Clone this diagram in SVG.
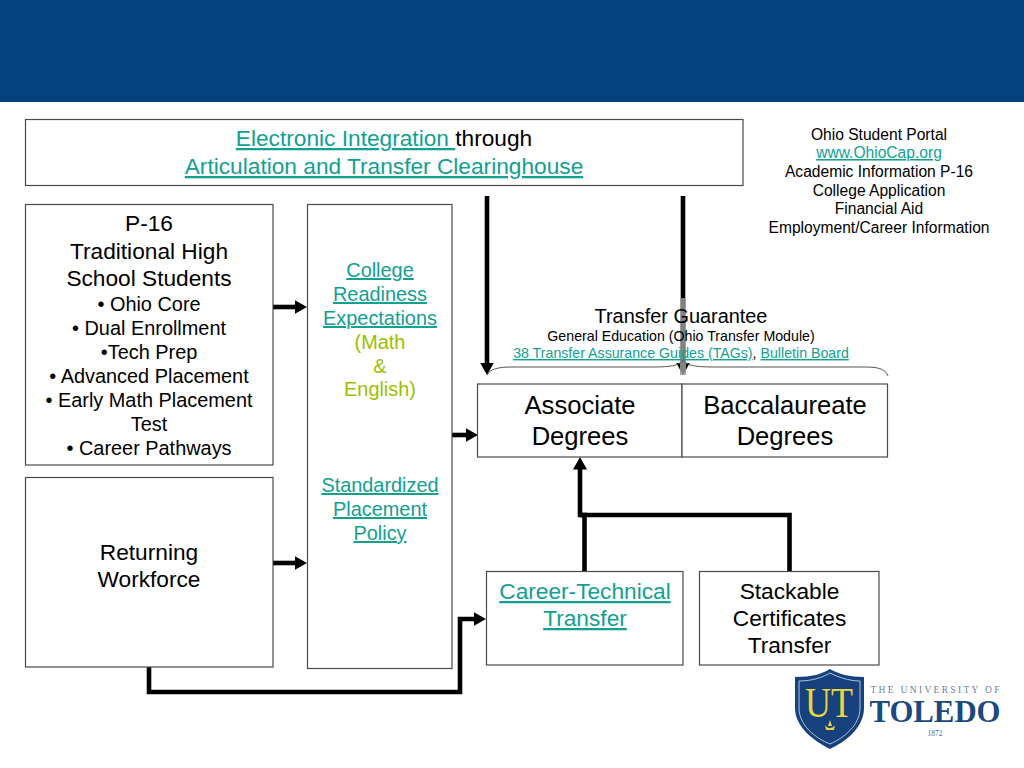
<svg xmlns="http://www.w3.org/2000/svg" width="1024" height="768" viewBox="0 0 1024 768">
<style>
text{font-family:"Liberation Sans",Arial,sans-serif;text-anchor:middle;fill:#000}
.b{fill:#fff;stroke:#4a4a4a;stroke-width:1.2}
.k{fill:none;stroke:#000;stroke-width:4.600}
.l{fill:#12a091;text-decoration:underline}
.g{fill:#9cbf00}
.t21{font-size:22.700px}.t15{font-size:15.600px}.t13{font-size:14.200px}.t18{font-size:19.900px}.t25{font-size:25.600px}
.s{font-family:"Liberation Serif",serif;fill:#1c4a80}
</style>
<defs>
<marker id="a" markerUnits="userSpaceOnUse" markerWidth="14" markerHeight="16" refX="6" refY="8" orient="auto"><path d="M0 1L12.500 8L0 15Z" fill="#000"/></marker>
</defs>
<rect width="1024" height="768" fill="#fff"/>
<rect id="header" width="1024" height="102" fill="#04427f"/>
<g id="connectors">
<path class="k" d="M273 307H300.500" marker-end="url(#a)"/>
<path class="k" d="M273 563H300.500" marker-end="url(#a)"/>
<path class="k" d="M452 435H471.500" marker-end="url(#a)"/>
<path class="k" d="M149 667V692H460V619H479.500" marker-end="url(#a)"/>
<path class="k" d="M487 196V368.500" marker-end="url(#a)"/>
<path class="k" d="M683 196V368.500" marker-end="url(#a)"/>
<path class="k" d="M584.500 571V515H580V463.500" marker-end="url(#a)"/>
<path class="k" d="M580 515H789.500V571"/>
<rect x="680" y="298" width="6" height="77" fill="#999" opacity=".85"/>
</g>
<g id="brace"><path d="M487 375C490 369 498 367 512 367H650C670 367 679 366 683 360C687 366 696 367 716 367H866C880 367 886 370 888 376" fill="none" stroke="#555" stroke-width="1"/></g>
<g id="clearinghouse"><rect class="b" x="25.500" y="119.500" width="717.500" height="66"/>
<text class="t21" x="384" y="146"><tspan class="l">Electronic Integration </tspan>through</text>
<text class="t21 l" x="384" y="174">Articulation and Transfer Clearinghouse</text></g>
<g id="portal" class="t15">
<text x="879" y="140">Ohio Student Portal</text>
<text class="l" x="879" y="158">www.OhioCap.org</text>
<text x="879" y="177">Academic Information P-16</text>
<text x="879" y="196">College Application</text>
<text x="879" y="214">Financial Aid</text>
<text x="879" y="233">Employment/Career Information</text></g>
<g id="p16"><rect class="b" x="25.500" y="204.500" width="247.500" height="260.500"/>
<g class="t21"><text x="149" y="231">P-16</text><text x="149" y="259">Traditional High</text><text x="149" y="286">School Students</text></g>
<g class="t18"><text x="149" y="311">• Ohio Core</text><text x="149" y="335">• Dual Enrollment</text><text x="149" y="359">•Tech Prep</text><text x="149" y="383">• Advanced Placement</text><text x="149" y="407">• Early Math Placement</text><text x="149" y="431">Test</text><text x="149" y="454.500">• Career Pathways</text></g></g>
<g id="returning"><rect class="b" x="25.500" y="477.500" width="247.500" height="189.500"/>
<g class="t21"><text x="149" y="560">Returning</text><text x="149" y="587">Workforce</text></g></g>
<g id="readiness"><rect class="b" x="307.500" y="204.500" width="144.500" height="464"/>
<g class="t18"><text class="l" x="380" y="277">College</text><text class="l" x="380" y="301">Readiness</text><text class="l" x="380" y="325">Expectations</text>
<text class="g" x="380" y="349">(Math</text><text class="g" x="380" y="373">&amp;</text><text class="g" x="380" y="396">English)</text>
<text class="l" x="380" y="492">Standardized</text><text class="l" x="380" y="516">Placement</text><text class="l" x="380" y="540">Policy</text></g></g>
<g id="guarantee"><text class="t18" x="681" y="323">Transfer Guarantee</text>
<text class="t13" x="681" y="341">General Education (Ohio Transfer Module)</text>
<text class="t13" x="681" y="358"><tspan class="l">38 Transfer Assurance Guides (TAGs)</tspan>, <tspan class="l">Bulletin Board</tspan></text></g>
<g id="associate"><rect class="b" x="477.500" y="384" width="204.500" height="73"/>
<g class="t25"><text x="580" y="414">Associate</text><text x="580" y="445">Degrees</text></g></g>
<g id="baccalaureate"><rect class="b" x="682" y="384" width="205.500" height="73"/>
<g class="t25"><text x="785" y="414">Baccalaureate</text><text x="785" y="445">Degrees</text></g></g>
<g id="career"><rect class="b" x="486.500" y="571.500" width="196.500" height="93.500"/>
<g class="t21"><text class="l" x="585" y="599">Career-Technical</text><text class="l" x="585" y="626">Transfer</text></g></g>
<g id="stackable"><rect class="b" x="699.500" y="571.500" width="179.500" height="93.500"/>
<g class="t21"><text x="789.500" y="599">Stackable</text><text x="789.500" y="626">Certificates</text><text x="789.500" y="653">Transfer</text></g></g>
<g id="logo">
<path d="M795 677C812 677 822 674 830 669C838 674 850 677 864 677V708C864 728 845 742 830 749C814 741 795 727 795 708Z" fill="#16417c"/>
<path d="M799 681C813 681 823 677 830 673C838 677 849 681 860 681V708C860 725 844 738 830 744C815 738 799 725 799 708Z" fill="none" stroke="#a9c4de" stroke-width="1"/>
<text x="829" y="717" font-size="42" textLength="48" lengthAdjust="spacingAndGlyphs" style="font-family:'Liberation Serif',serif;fill:#ead53f">UT</text>
<path d="M830 720L832 726H828ZM825 725C827 728 829 728 830 728C831 728 833 728 835 725L834 730H826Z" fill="#ead53f"/>
<text class="s" x="935" y="693" font-size="9.500" textLength="129" style="fill:#6d7f99">THE UNIVERSITY OF</text>
<text class="s" x="935" y="722" font-size="32" textLength="131" lengthAdjust="spacingAndGlyphs" font-weight="bold">TOLEDO</text>
<text class="s" x="935" y="735.500" font-size="7.500" style="fill:#55688a">1872</text>
</g>
</svg>
